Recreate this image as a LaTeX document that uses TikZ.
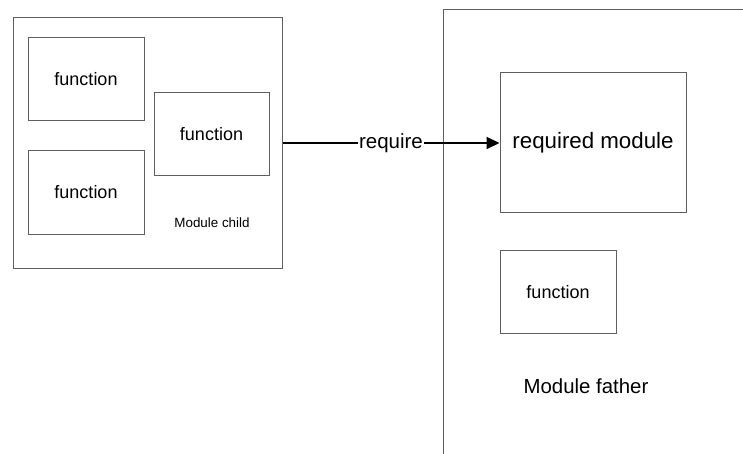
\documentclass[tikz,border=0pt]{standalone}
\usepackage{fontspec}
\setmainfont{Liberation Sans}
\usetikzlibrary{arrows.meta}
\definecolor{boxline}{RGB}{95,95,95}
\tikzset{
  fnbox/.style={draw=boxline, line width=1pt, inner sep=0pt, minimum width=116pt, minimum height=83pt, font=\fontsize{18}{20}\selectfont},
  container/.style={draw=boxline, line width=1pt, inner sep=0pt},
  link/.style={line width=2pt, -{Triangle[length=13pt,width=12pt]}},
}
\begin{document}
\begin{tikzpicture}[x=1pt, y=-1pt]
  \useasboundingbox (0,0) rectangle (743,454);
  % child module and its functions
  \node[container, minimum width=269pt, minimum height=250pt] (child) at (147.5,143) {};
  \node[fnbox] (f1) at (86,79.5) {function};
  \node[fnbox] (f2) at (86,192.5) {function};
  \node[fnbox, minimum width=115pt] (f3) at (211.5,134.5) {function};
  \node[font=\fontsize{13.4}{15}\selectfont] (childlbl) at (212,223) {Module child};
  % father module, running off the page
  \coordinate (fbl) at (443,454);
  \coordinate (ftl) at (443,10);
  \coordinate (ftr) at (743,10);
  \draw[boxline, line width=1pt] (fbl) -- (ftl) -- (ftr);
  \node[fnbox, minimum width=186pt, minimum height=140pt, font=\fontsize{22.3}{25}\selectfont] (req) at (593,143) {required module};
  \node[fnbox] (f4) at (558,292) {function};
  \node[font=\fontsize{20.4}{23}\selectfont] (fatherlbl) at (586,386) {Module father};
  % the require link
  \draw[link] (child.east) -- node[fill=white, inner sep=1pt, font=\fontsize{20.5}{23}\selectfont] (reqlbl) {require} (req.west);
\end{tikzpicture}
\end{document}
